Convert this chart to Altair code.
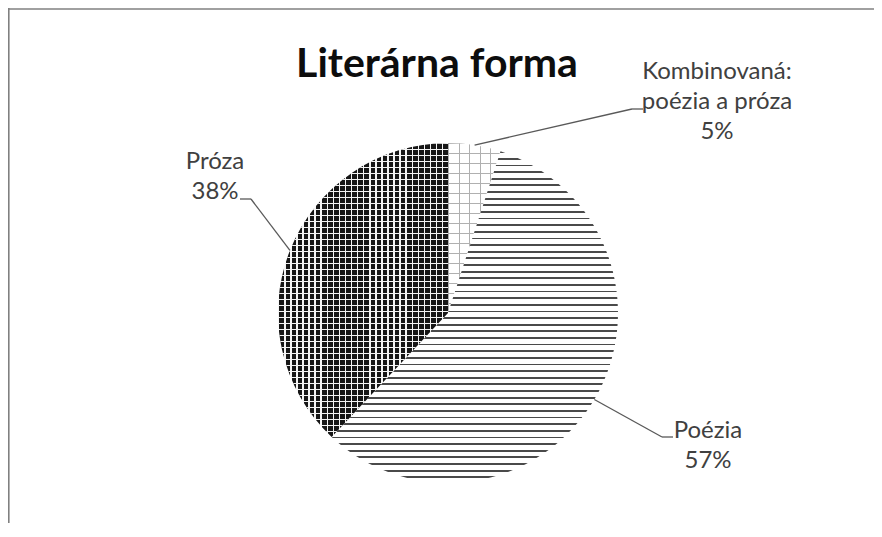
import math
import altair as alt
import pandas as pd

# ---------------- data ----------------
TITLE = "Literárna forma"
categories = ["Kombinovaná", "Poézia", "Próza"]
label_names = ["Kombinovaná:\npoézia a próza", "Poézia", "Próza"]
values = [5, 57, 38]

# ---------------- layout / style ----------------
W, H = 866, 515
CX, CY, R = 440, 305, 170
FONT = "Lato"
TEXT_COLOR = "#404040"
LEADER_COLOR = "#595959"

LABELS = {
    "Kombinovaná": dict(x=709, y=71, ex=624, ey=101, hx=635),
    "Poézia": dict(x=700, y=430, ex=654, ey=429, hx=665),
    "Próza": dict(x=207, y=161, ex=243, ey=191, hx=232),
}

total = sum(values)
df = pd.DataFrame({
    "category": categories,
    "name": label_names,
    "value": values,
    "order": list(range(len(categories))),
})


def sector_bbox(f0, f1):
    """bounding box (w, h) of a pie sector between fractions f0 and f1"""
    pts = [(0.0, 0.0)]
    n = 200
    for i in range(n + 1):
        a = (f0 + (f1 - f0) * i / n) * 2 * math.pi
        pts.append((R * math.sin(a), -R * math.cos(a)))
    xs = [p[0] for p in pts]
    ys = [p[1] for p in pts]
    return max(xs) - min(xs), max(ys) - min(ys)


def stripes(period, size, line, bg, frac, vertical_lines):
    n = max(1, round(size / period))
    stops = []
    for i in range(n):
        a = i / n
        b = (i + frac) / n
        c = (i + 1) / n
        stops += [
            alt.GradientStop(offset=a, color=line),
            alt.GradientStop(offset=b, color=line),
            alt.GradientStop(offset=b, color=bg),
            alt.GradientStop(offset=c, color=bg),
        ]
    if vertical_lines:
        x1, y1, x2, y2 = 0, 0, 1, 0
    else:
        x1, y1, x2, y2 = 0, 0, 0, 1
    return alt.LinearGradient(gradient="linear", stops=stops, x1=x1, y1=y1, x2=x2, y2=y2)


# fractions per slice, used only to size the fill textures
cum = 0
bbox = {}
for c, v in zip(categories, values):
    bbox[c] = sector_bbox(cum / total, (cum + v) / total)
    cum += v

CLEAR = "rgba(255,255,255,0)"
fills = {
    "Kombinovaná": [
        stripes(11, bbox["Kombinovaná"][0], "#b0b0b0", "#ffffff", 0.12, True),
        stripes(10, bbox["Kombinovaná"][1], "#b0b0b0", CLEAR, 0.12, False),
    ],
    "Poézia": [
        stripes(6.7, bbox["Poézia"][1], "#4a4a4a", "#ffffff", 0.27, False),
    ],
    "Próza": [
        stripes(6, bbox["Próza"][0], "#f4f4f4", "#161616", 0.24, True),
        stripes(6, bbox["Próza"][1], "#f4f4f4", CLEAR, 0.24, False),
    ],
}

theta_scale = alt.Scale(domain=[0, total], range=[0, 2 * math.pi])

base = alt.Chart(df).transform_window(
    cum="sum(value)", sort=[alt.SortField("order")], frame=[None, 0]
).transform_calculate(
    start="datum.cum - datum.value",
    end="datum.cum",
    mid=f"(datum.cum - datum.value / 2) / {total} * 2 * PI",
    ix=f"{CX} + {R} * sin(datum.mid)",
    iy=f"{CY} - {R} * cos(datum.mid)",
    label=f"datum.name + '\\n' + format(datum.value / {total}, '.0%')",
)

layers = []
for cat in categories:
    for fill in fills[cat]:
        layers.append(
            base.transform_filter(alt.datum.category == cat)
            .mark_arc(radius=R, x=CX, y=CY, fill=fill)
            .encode(theta=alt.Theta("start:Q", scale=theta_scale), theta2=alt.Theta2("end"))
        )

for cat in categories:
    L = LABELS[cat]
    sub = base.transform_filter(alt.datum.category == cat)
    layers.append(
        sub.mark_rule(color=LEADER_COLOR, strokeWidth=1.3).encode(
            x=alt.X("ix:Q", scale=None, axis=None),
            y=alt.Y("iy:Q", scale=None, axis=None),
            x2=alt.value(L["ex"]),
            y2=alt.value(L["ey"]),
        )
    )
    layers.append(
        sub.mark_rule(color=LEADER_COLOR, strokeWidth=1.3).encode(
            x=alt.value(L["ex"]), x2=alt.value(L["hx"]),
            y=alt.value(L["ey"]), y2=alt.value(L["ey"]),
        )
    )
    layers.append(
        sub.mark_text(
            align="center", baseline="alphabetic", font=FONT, fontSize=24,
            lineHeight=30, color=TEXT_COLOR, lineBreak="\n",
        ).encode(x=alt.value(L["x"]), y=alt.value(L["y"]), text="label:N")
    )

one = base.transform_filter("datum.order == 0")
# title
layers.append(
    one.mark_text(align="center", baseline="alphabetic", font=FONT, fontSize=41,
                  fontWeight="bold", color="#0d0d0d").encode(
        x=alt.value(429), y=alt.value(69), text=alt.value(TITLE)
    )
)
# chart frame (left and top edges visible in the reference), drawn as thin rects
layers.append(
    one.mark_rect(color="#808080", strokeWidth=0).encode(
        x=alt.value(0), x2=alt.value(1.6), y=alt.value(0), y2=alt.value(H)
    )
)
layers.append(
    one.mark_rect(color="#808080", strokeWidth=0).encode(
        x=alt.value(0), x2=alt.value(W), y=alt.value(0.2), y2=alt.value(1.7)
    )
)

chart = alt.layer(*layers).properties(
    width=W, height=H, autosize="none", padding=0
).configure_view(stroke=None)

chart.save("out.html", embed_options={"renderer": "svg", "actions": False})
